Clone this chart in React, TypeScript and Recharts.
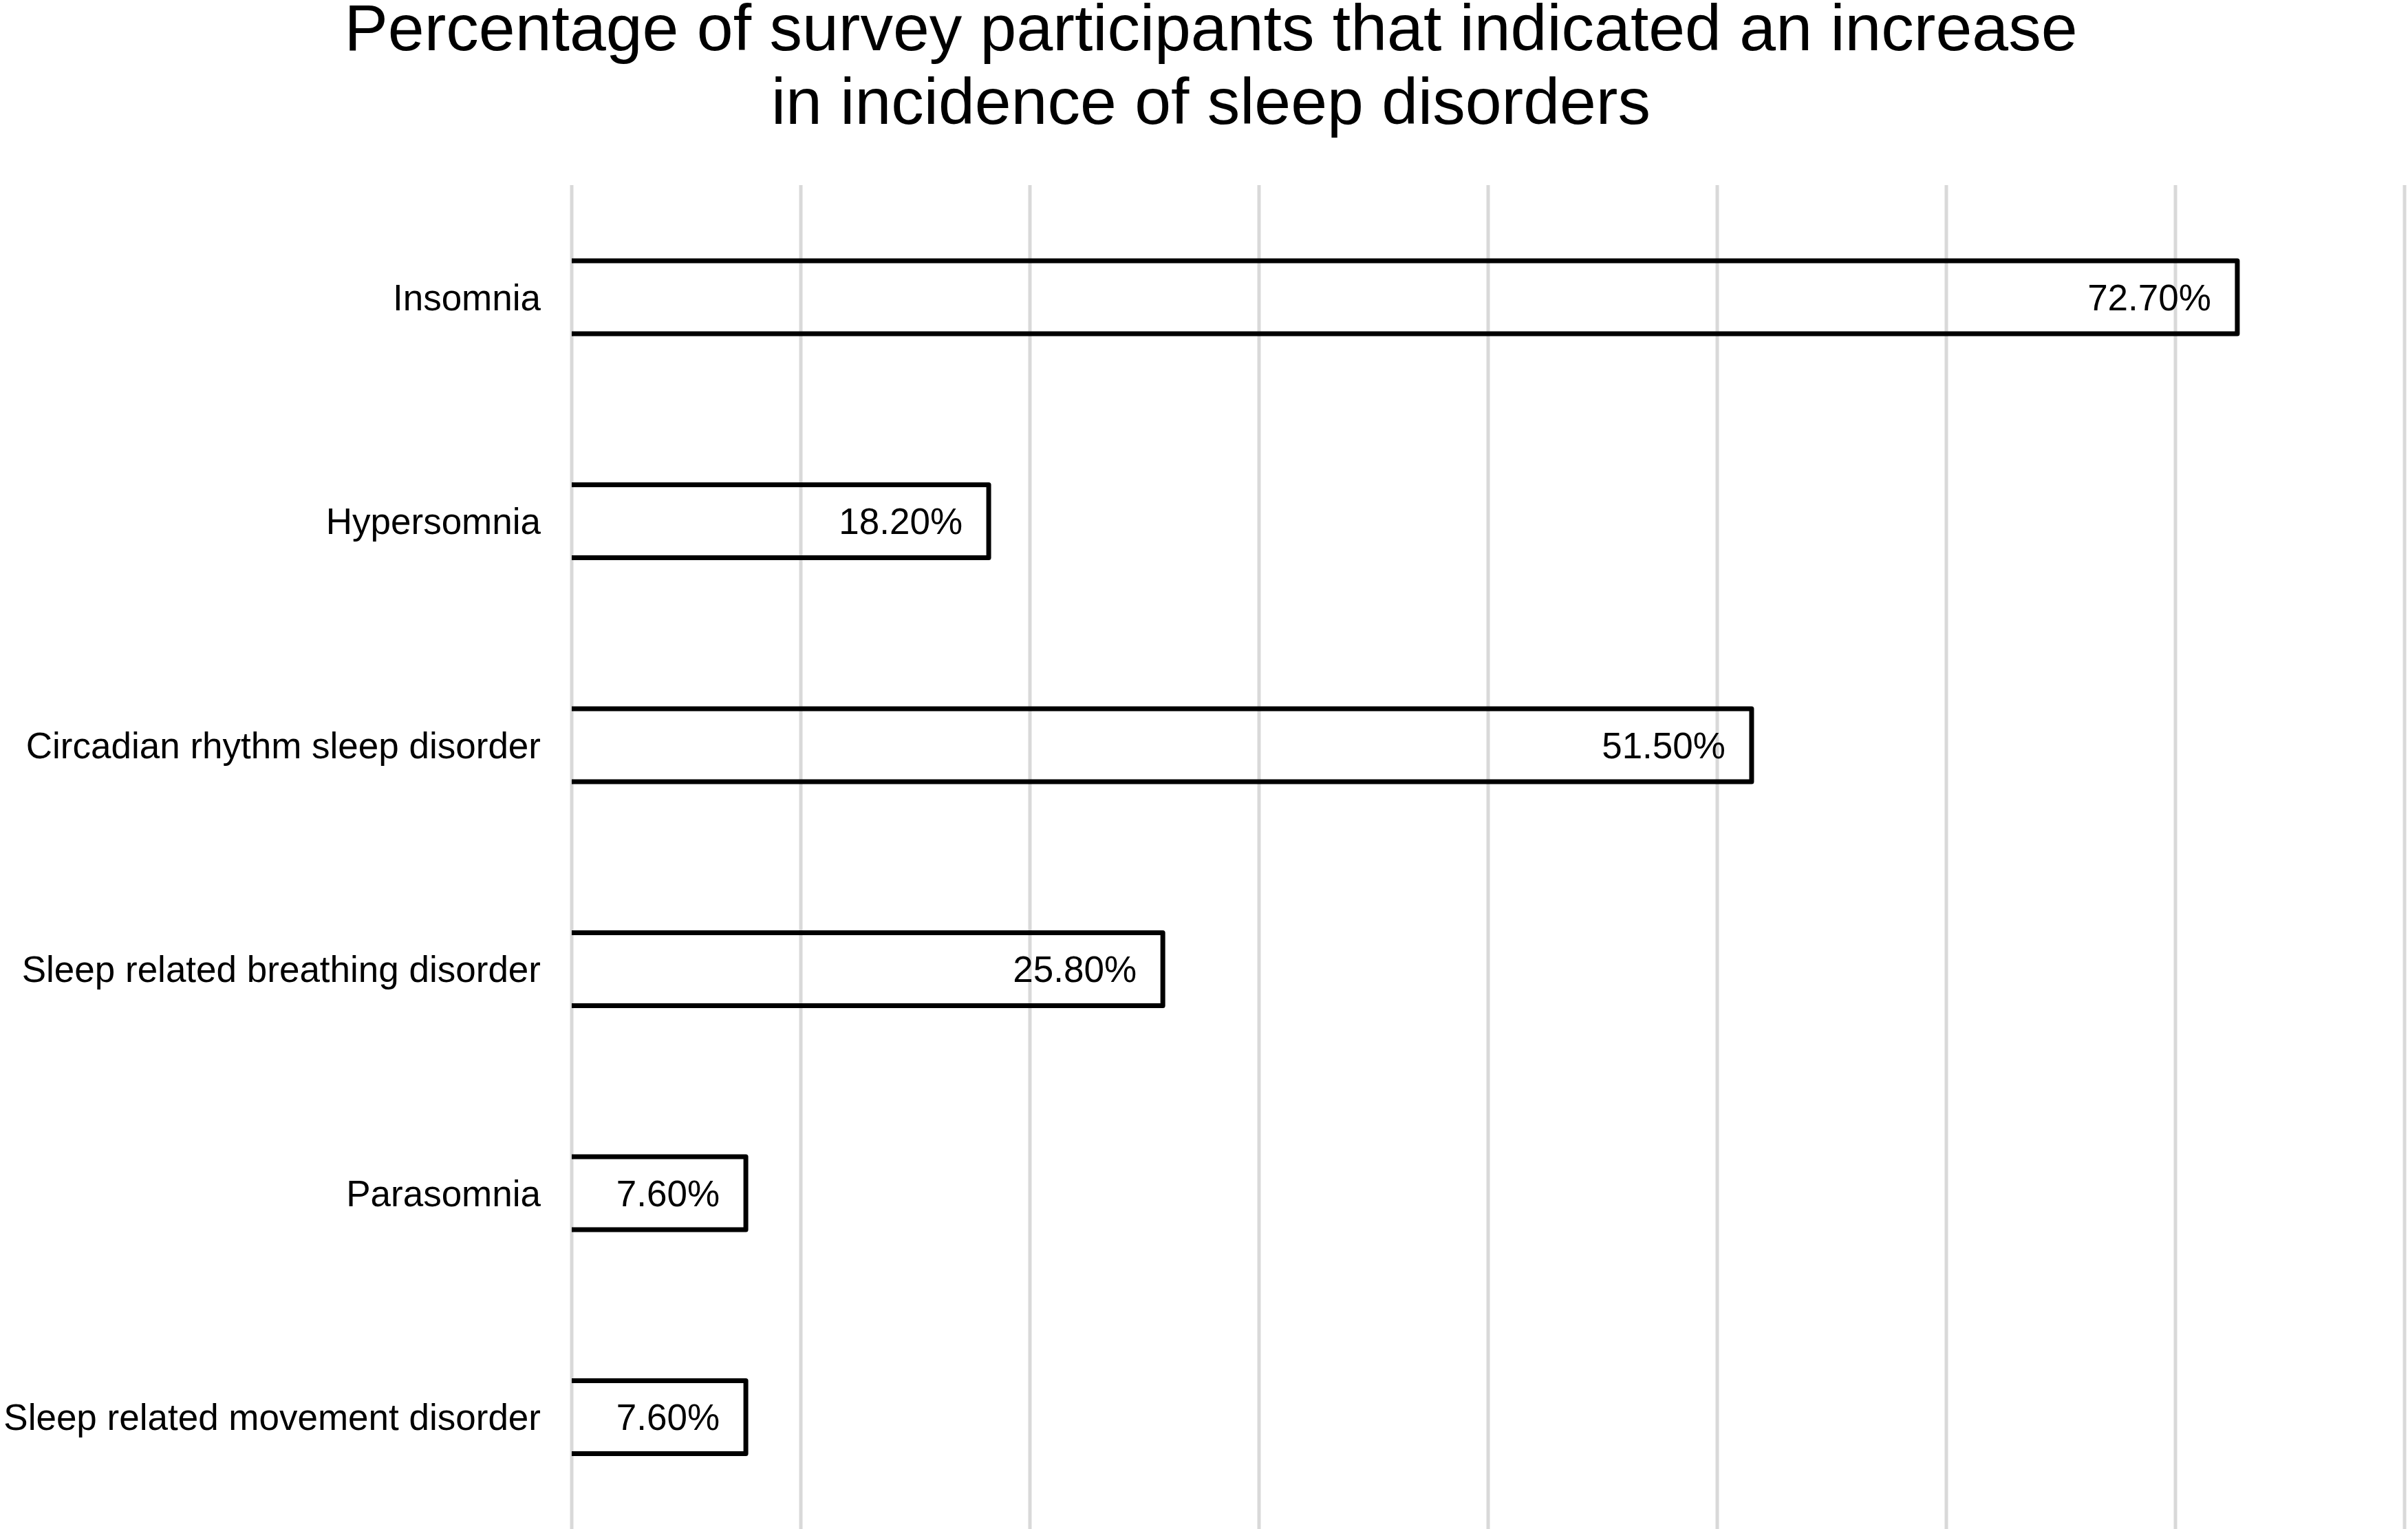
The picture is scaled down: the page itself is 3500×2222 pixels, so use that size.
import React from 'react';
import { BarChart, Bar, XAxis, YAxis, CartesianGrid, LabelList } from 'recharts';

const categories = [
  'Insomnia',
  'Hypersomnia',
  'Circadian rhythm sleep disorder',
  'Sleep related breathing disorder',
  'Parasomnia',
  'Sleep related movement disorder',
];
const percentages = [72.7, 18.2, 51.5, 25.8, 7.6, 7.6];
const xTicks = [0, 10, 20, 30, 40, 50, 60, 70, 80];
const titleLines = [
  'Percentage of survey participants that indicated an increase',
  'in incidence of sleep disorders',
];

const data = categories.map((name, i) => ({ name, value: percentages[i] }));

const FONT = '"Liberation Sans", Arial, Helvetica, sans-serif';

const OpenBar = (props: any) => {
  const { x, y, width, height } = props;
  return (
    <path
      d={`M${x},${y}H${x + width}V${y + height}H${x}`}
      fill="none"
      stroke="#000"
      strokeWidth={7}
      strokeLinejoin="round"
    />
  );
};

export default function App() {
  return (
    <div style={{ position: 'absolute', left: 0, top: 0, width: 3500, height: 2222, background: '#fff' }}>
      <BarChart
        width={3500}
        height={2222}
        data={data}
        layout="vertical"
        margin={{ top: 269, right: 5, bottom: 0, left: 0 }}
      >
        <CartesianGrid horizontal={false} stroke="#d9d9d9" strokeWidth={5} />
        <XAxis type="number" domain={[0, 80]} ticks={xTicks} hide />
        <YAxis
          type="category"
          dataKey="name"
          width={831}
          axisLine={false}
          tickLine={false}
          tickSize={6}
          tickMargin={39}
          interval={0}
          tick={{ fill: '#000', fontSize: 53, fontFamily: FONT }}
        />
        <Bar dataKey="value" barSize={106} shape={OpenBar} isAnimationActive={false}>
          <LabelList
            dataKey="value"
            position="insideRight"
            offset={38}
            formatter={(v: any) => `${Number(v).toFixed(2)}%`}
            style={{ fill: '#000', fontSize: 53, fontFamily: FONT }}
          />
        </Bar>
      </BarChart>
      <svg width={3500} height={260} style={{ position: 'absolute', left: 0, top: 0 }}>
        {titleLines.map((t, i) => (
          <text
            key={i}
            x={1760}
            y={73 + i * 107}
            textAnchor="middle"
            fontSize={95}
            fontFamily={FONT}
            fill="#000"
          >
            {t}
          </text>
        ))}
      </svg>
    </div>
  );
}
